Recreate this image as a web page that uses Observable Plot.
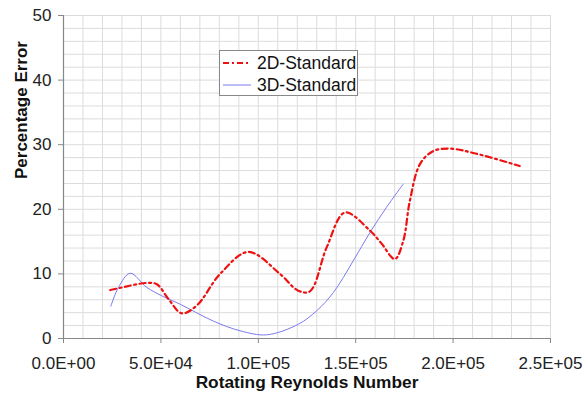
<!DOCTYPE html>
<html>
<head>
<meta charset="utf-8">
<script src="https://cdn.jsdelivr.net/npm/d3@7"></script>
<script src="https://cdn.jsdelivr.net/npm/@observablehq/plot@0.6"></script>
<style>
  body { margin: 0; background: #fff; font-family: "Liberation Sans", Arial, sans-serif; }
  #wrap { position: relative; width: 588px; height: 394px; }
  #legend { position: absolute; left: 219px; top: 50px; width: 139px; height: 46px; box-sizing: border-box;
    border: 1px solid #888; background: #fff; font-size: 17.5px; color: #111; }
  .row { position: absolute; left: 0; height: 20px; display: flex; align-items: center; }
  .row svg { margin-left: 3px; margin-right: 6px; }
</style>
</head>
<body>
<div id="wrap"><div id="chart"></div>
<div id="legend">
  <div class="row" style="top:2px"><svg width="28" height="6"><line x1="0" x2="28" y1="3" y2="3" stroke="#ee1111" stroke-width="2" stroke-dasharray="6,3,2,3"/></svg><span>2D-Standard</span></div>
  <div class="row" style="top:24px"><svg width="28" height="6"><line x1="0" x2="28" y1="3" y2="3" stroke="#7b7bf0" stroke-width="1"/></svg><span>3D-Standard</span></div>
</div>
</div>
<script>
const xTicks = [0, 50000, 100000, 150000, 200000, 250000];
const yTicks = [0, 10, 20, 30, 40, 50];
const xGrid = d3.range(0, 250001, 10000);
const yGrid = d3.range(0, 51, 2);

const x2D = [24000, 30000, 36000, 42800, 47900, 53900, 60700, 68400, 80400, 94900, 111100, 120500, 126500, 135100, 144500, 157300, 163000, 170100, 174400, 177800, 183000, 189700, 198300, 212000, 234200];
const y2D = [7.5, 7.9, 8.3, 8.6, 8.4, 6.1, 3.9, 5.1, 10.0, 13.4, 10.0, 7.4, 7.3, 14.1, 19.5, 16.7, 14.8, 12.3, 15.1, 21.3, 27.0, 29.0, 29.4, 28.6, 26.7];

const x3D = [24300, 28200, 34200, 42800, 50500, 59900, 76900, 90600, 104300, 120500, 130000, 138500, 148700, 157300, 165800, 174400];
const y3D = [5.0, 7.9, 10.1, 7.9, 6.6, 5.3, 2.7, 1.2, 0.57, 2.2, 4.3, 7.1, 12.0, 16.4, 20.3, 23.9];

const d2 = x2D.map((x, i) => ({x, y: y2D[i]}));
const d3s = x3D.map((x, i) => ({x, y: y3D[i]}));

const fmt = d => {
  if (d === 0) return "0.0E+00";
  const e = Math.floor(Math.log10(d));
  return (d / Math.pow(10, e)).toFixed(1) + "E+" + String(e).padStart(2, "0");
};

const chart = Plot.plot({
  width: 588, height: 394,
  marginLeft: 63, marginRight: 38, marginTop: 15, marginBottom: 56,
  style: {fontFamily: "Liberation Sans, Arial, sans-serif", fontSize: "17px", color: "#222", background: "#fff", overflow: "visible"},
  x: {domain: [0, 250000], label: null},
  y: {domain: [0, 50], label: null},
  marks: [
    Plot.ruleX(xGrid, {stroke: "#dcdcdc", strokeWidth: 1, strokeOpacity: 1}),
    Plot.ruleY(yGrid, {stroke: "#dcdcdc", strokeWidth: 1, strokeOpacity: 1}),
    Plot.axisX({ticks: xTicks, tickFormat: fmt, tickSize: 5, tickPadding: 13, stroke: "#888", fontSize: 17, label: null}),
    Plot.axisY({ticks: yTicks, tickSize: 5, tickPadding: 7, stroke: "#888", fontSize: 17, label: null}),
    Plot.ruleX([0], {stroke: "#888", strokeWidth: 1.2}),
    Plot.ruleY([0], {stroke: "#888", strokeWidth: 1.2}),
    Plot.line(d3s, {x: "x", y: "y", stroke: "#7b7bf0", strokeWidth: 1, curve: "catmull-rom"}),
    Plot.line(d2, {x: "x", y: "y", stroke: "#ee1111", strokeWidth: 2.2, strokeDasharray: "6,3.5,2,3.5", curve: "catmull-rom"}),
    Plot.text(["Rotating Reynolds Number"], {frameAnchor: "bottom", dy: 49, fontWeight: "bold", fontSize: 17.3, fill: "#111"}),
    Plot.text(["Percentage Error"], {frameAnchor: "left", dx: -42, dy: 2, rotate: -90, fontWeight: "bold", fontSize: 17, fill: "#111"})
  ]
});
document.getElementById("chart").appendChild(chart);
</script>
</body>
</html>
